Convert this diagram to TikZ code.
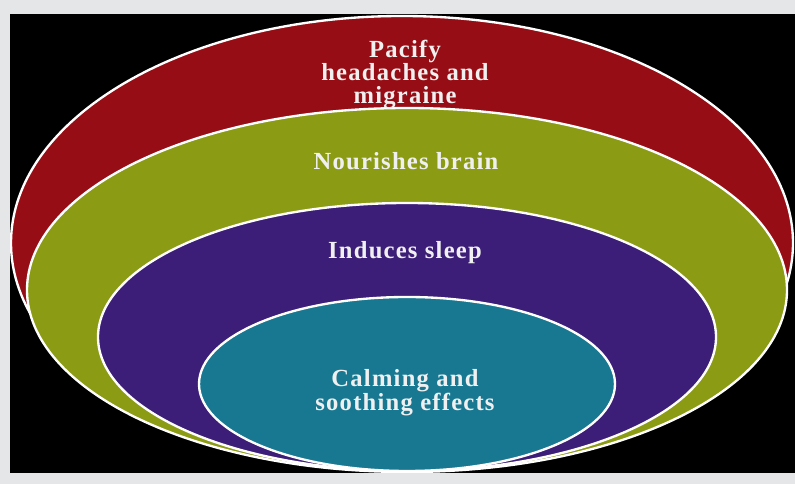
\documentclass[tikz,border=0pt]{standalone}
\usepackage{fontspec}
\setmainfont{Liberation Serif}
\usepackage{tikz}
\definecolor{wall}{HTML}{E4E6E8}
\definecolor{ruby}{HTML}{970D15}
\definecolor{moss}{HTML}{8C9B14}
\definecolor{plum}{HTML}{3C1E78}
\definecolor{lagoon}{HTML}{197891}
\tikzset{ring/.style={draw=white,line width=2pt},lbl/.style={align=center,text=white!94!black,inner sep=0pt,font=\bfseries\fontsize{21}{19.4}\selectfont\addfontfeature{LetterSpace=5}}}

\begin{document}
\begin{tikzpicture}[x=.03cm,y=.03cm]
\fill[wall] (0,0) rectangle (795,484);
\fill[black] (10,11) rectangle (795,470);
\begin{scope}
\clip (10,11) rectangle (795,470);
\foreach \cx/\cy/\rx/\ry/\col in {402/241/391/227/ruby,407/194/380/182/moss,407/147/309/134/plum,407/100/208/87/lagoon}
  {\filldraw[ring,fill=\col] (\cx,\cy) ellipse [x radius=.03cm*\rx, y radius=.03cm*\ry];}
\end{scope}
\node[lbl] (pacify) at (405,409.5) {Pacify\\headaches and\\migraine};
\node[lbl,anchor=base] (nourish) at (406,314) {Nourishes brain};
\node[lbl,anchor=base] (sleep) at (405,225) {Induces sleep};
\node[lbl] (calm) at (405,91.5) {Calming and\\soothing effects};
\end{tikzpicture}
\end{document}
